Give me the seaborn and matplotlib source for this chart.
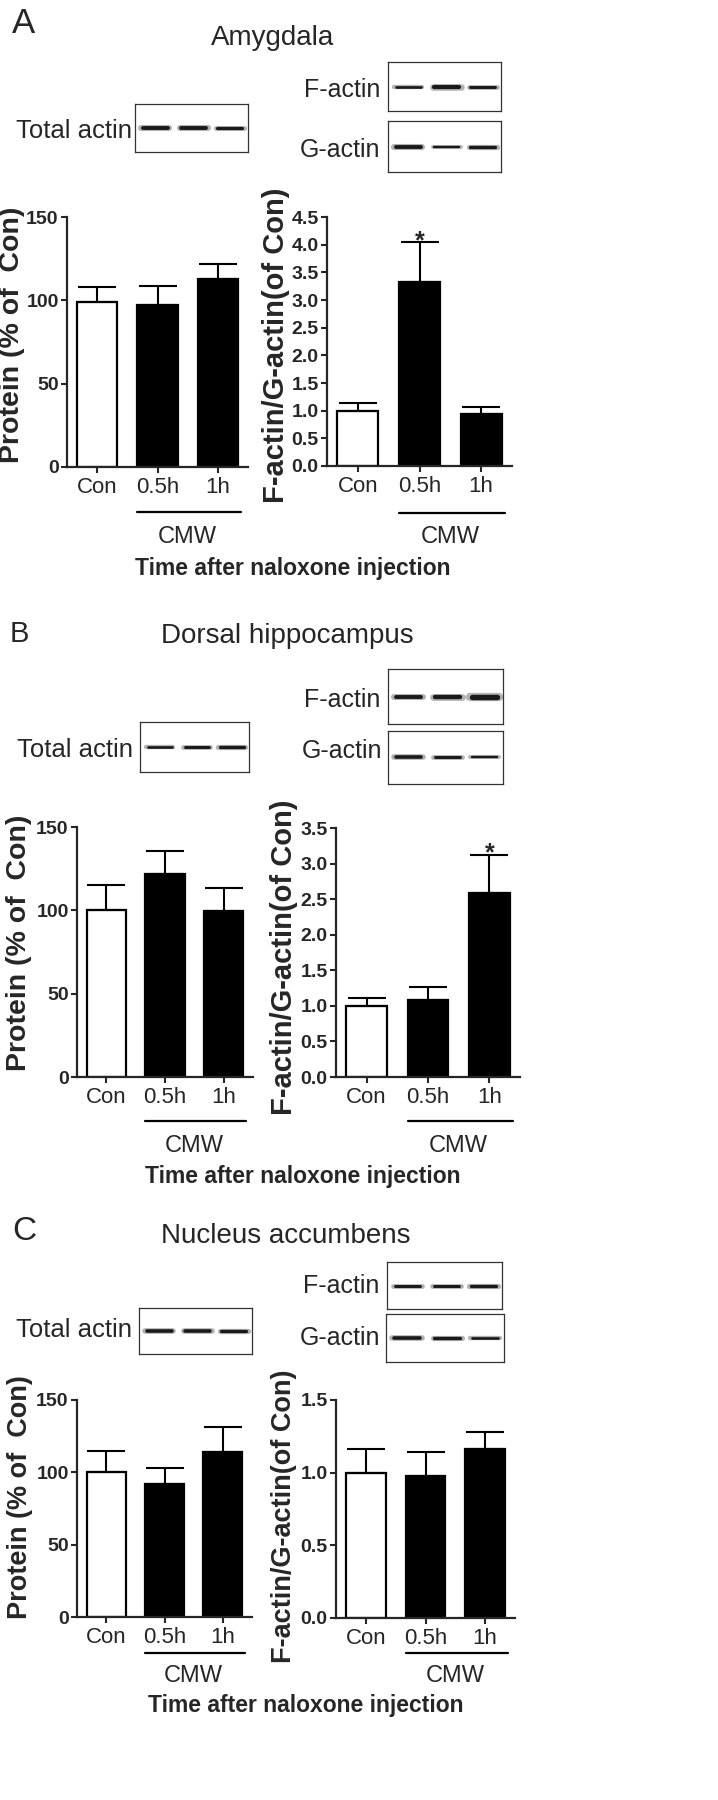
import numpy as np
import pandas as pd
import matplotlib
matplotlib.use("Agg")
import matplotlib.pyplot as plt
import seaborn as sns
from matplotlib.lines import Line2D
from matplotlib.transforms import blended_transform_factory

# ---------------- data ----------------
categories = ["Con", "0.5h", "1h"]
group_label = "CMW"
xlabel_text = "Time after naloxone injection"
protein_label = "Protein (% of  Con)"
ratio_label = "F-actin/G-actin(of Con)"

amyg_protein = [99.0, 97.0, 112.5]
amyg_protein_sem = [9.0, 11.5, 9.5]
amyg_ratio = [1.0, 3.32, 0.94]
amyg_ratio_sem = [0.14, 0.72, 0.13]
amyg_ratio_sig = ["", "*", ""]

dh_protein = [100.0, 122.0, 99.5]
dh_protein_sem = [15.0, 13.5, 14.0]
dh_ratio = [1.0, 1.08, 2.59]
dh_ratio_sem = [0.11, 0.19, 0.53]
dh_ratio_sig = ["", "", "*"]

nac_protein = [100.0, 91.8, 113.8]
nac_protein_sem = [14.5, 11.0, 17.5]
nac_ratio = [1.0, 0.98, 1.16]
nac_ratio_sem = [0.16, 0.16, 0.12]
nac_ratio_sig = ["", "", ""]

protein_ticks = [0, 50, 100, 150]
amyg_ratio_ticks = [0.0, 0.5, 1.0, 1.5, 2.0, 2.5, 3.0, 3.5, 4.0, 4.5]
dh_ratio_ticks = [0.0, 0.5, 1.0, 1.5, 2.0, 2.5, 3.0, 3.5]
nac_ratio_ticks = [0.0, 0.5, 1.0, 1.5]

# western blot band strengths (relative), per lane
amyg_total_bands = [1.0, 1.0, 0.75]
amyg_f_bands = [0.6, 1.1, 0.7]
amyg_g_bands = [1.0, 0.5, 0.8]
dh_total_bands = [0.6, 0.7, 0.8]
dh_f_bands = [1.0, 1.15, 1.5]
dh_g_bands = [0.9, 0.7, 0.5]
nac_total_bands = [0.9, 0.9, 0.8]
nac_f_bands = [0.7, 0.7, 0.8]
nac_g_bands = [0.9, 0.8, 0.6]

# ---------------- style ----------------
sns.set_style("ticks")
FONT = ["Liberation Sans", "DejaVu Sans"]
plt.rcParams["font.family"] = FONT
plt.rcParams["axes.linewidth"] = 1.5

W, H = 718, 1800
fig = plt.figure(figsize=(W / 100, H / 100), dpi=100)
fig.patch.set_facecolor("white")


def add_ax(x0, y0, x1, y1):
    return fig.add_axes([x0 / W, 1 - y1 / H, (x1 - x0) / W, (y1 - y0) / H])


def ftext(x, y, s, **kw):
    return fig.text(x / W, 1 - y / H, s, **kw)


def blot(box, bands, label, label_xy, fs):
    bx = add_ax(*box)
    bx.set_xlim(0, 1)
    bx.set_ylim(0, 1)
    bx.set_xticks([])
    bx.set_yticks([])
    for s in bx.spines.values():
        s.set_linewidth(0.9)
        s.set_color("#333333")
        s.set_visible(True)
    lanes = [0.18, 0.52, 0.84]
    for c, b in zip(lanes, bands):
        bx.hlines(0.5, c - 0.125, c + 0.125, colors="#555555", linewidth=3.2 * b + 1.2,
                  alpha=0.45, capstyle="round")
        bx.hlines(0.5, c - 0.11, c + 0.11, colors="#1a1a1a", linewidth=2.2 * b + 0.6,
                  capstyle="round")
    ftext(label_xy[0], label_xy[1], label, ha="right", va="baseline", fontsize=fs)


def bar_panel(rect, means, sems, ticks, sig, cmw_y, cmw_text_y, ylabel, ylabel_xy, ylabel_fs,
              ticklabels=None):
    ax = add_ax(*rect)
    df = pd.DataFrame({"group": categories, "value": means})
    sns.barplot(data=df, x="group", y="value", hue="group",
                palette=["white", "black", "black"], edgecolor="black",
                linewidth=1.6, width=0.667, legend=False, ax=ax, saturation=1)
    xs = np.arange(len(categories))
    ax.errorbar(xs, means, yerr=[np.zeros(len(sems)), sems], fmt="none",
                ecolor="black", elinewidth=1.5, capsize=14, capthick=1.5, zorder=1)
    for i, s in enumerate(sig):
        if s:
            ax.annotate(s, (xs[i], means[i] + sems[i]), xytext=(0, -4),
                        textcoords="offset points", ha="center", va="baseline",
                        fontsize=18, fontweight="bold")
    ax.set_xlim(-0.5, 2.5)
    ax.set_ylim(ticks[0], ticks[-1])
    ax.set_yticks(ticks)
    if ticklabels is not None:
        ax.set_yticklabels(ticklabels)
    sns.despine(ax=ax)
    ax.spines["left"].set_linewidth(1.6)
    ax.spines["bottom"].set_linewidth(1.6)
    ax.tick_params(axis="y", direction="out", length=4.5, width=1.5, pad=1.5, labelsize=14)
    ax.tick_params(axis="x", direction="out", length=4.5, width=1.5, pad=3, labelsize=16)
    for t in ax.get_yticklabels():
        t.set_fontweight("bold")
    ax.set_xlabel("")
    ax.set_ylabel("")
    trans = blended_transform_factory(ax.transData, fig.transFigure)
    x0, x1 = 1 - 0.333, 2 + 0.38
    ax.add_line(Line2D([x0, x1], [1 - cmw_y / H] * 2, transform=trans, color="black",
                       lw=1.6, clip_on=False))
    ax.text((x0 + x1) / 2 - 0.03, 1 - cmw_text_y / H, group_label, transform=trans,
            ha="center", va="baseline", fontsize=17)
    ax.set_xlim(-0.5, 2.5)
    ax.set_ylim(ticks[0], ticks[-1])
    ftext(ylabel_xy[0], ylabel_xy[1], ylabel, rotation=90, ha="center", va="center",
          fontsize=ylabel_fs, fontweight="bold")
    return ax


ratio_fmt = lambda ts: [f"{t:.1f}" for t in ts]

# ---------------- Panel A ----------------
ftext(12, 33, "A", fontsize=25, va="baseline")
ftext(273, 45, "Amygdala", fontsize=20, ha="center", va="baseline")
blot((135, 104, 248, 152), amyg_total_bands, "Total actin", (132, 138), 18.5)
blot((388, 62, 501, 111), amyg_f_bands, "F-actin", (380, 97), 18)
blot((388, 121, 501, 172), amyg_g_bands, "G-actin", (380, 157), 18)
bar_panel((67, 217, 248, 467), amyg_protein, amyg_protein_sem, protein_ticks, ["", "", ""],
          512, 543, protein_label, (12, 335), 20.5)
bar_panel((327, 217, 512, 466), amyg_ratio, amyg_ratio_sem, amyg_ratio_ticks, amyg_ratio_sig,
          513, 543, ratio_label, (276, 345), 21, ratio_fmt(amyg_ratio_ticks))
ftext(293, 575, xlabel_text, fontsize=16.5, fontweight="bold", ha="center", va="baseline")

# ---------------- Panel B ----------------
ftext(10, 642, "B", fontsize=21, va="baseline")
ftext(287, 643, "Dorsal hippocampus", fontsize=20, ha="center", va="baseline")
blot((140, 722, 249, 772), dh_total_bands, "Total actin", (133, 757), 18.5)
blot((388, 669, 503, 724), dh_f_bands, "F-actin", (380, 707), 18)
blot((388, 731, 503, 784), dh_g_bands, "G-actin", (382, 758), 18)
bar_panel((77, 827, 253, 1077), dh_protein, dh_protein_sem, protein_ticks, ["", "", ""],
          1121, 1152, protein_label, (19, 943), 20.5)
bar_panel((336, 828, 520, 1077), dh_ratio, dh_ratio_sem, dh_ratio_ticks, dh_ratio_sig,
          1121, 1152, ratio_label, (284, 957), 21, ratio_fmt(dh_ratio_ticks))
ftext(303, 1183, xlabel_text, fontsize=16.5, fontweight="bold", ha="center", va="baseline")

# ---------------- Panel C ----------------
ftext(12, 1240, "C", fontsize=24, va="baseline")
ftext(286, 1243, "Nucleus accumbens", fontsize=20, ha="center", va="baseline")
blot((139, 1308, 252, 1354), nac_total_bands, "Total actin", (132, 1337), 18.5)
blot((387, 1262, 502, 1309), nac_f_bands, "F-actin", (379, 1293), 18)
blot((386, 1314, 504, 1362), nac_g_bands, "G-actin", (380, 1345), 18)
bar_panel((77, 1400, 252, 1617), nac_protein, nac_protein_sem, protein_ticks, ["", "", ""],
          1653, 1682, protein_label, (20, 1497), 19.5)
bar_panel((336, 1400, 515, 1618), nac_ratio, nac_ratio_sem, nac_ratio_ticks, nac_ratio_sig,
          1653, 1682, ratio_label, (284, 1516), 19.5, ratio_fmt(nac_ratio_ticks))
ftext(306, 1712, xlabel_text, fontsize=16.5, fontweight="bold", ha="center", va="baseline")

fig.savefig("out.png", dpi=100, facecolor="white")
